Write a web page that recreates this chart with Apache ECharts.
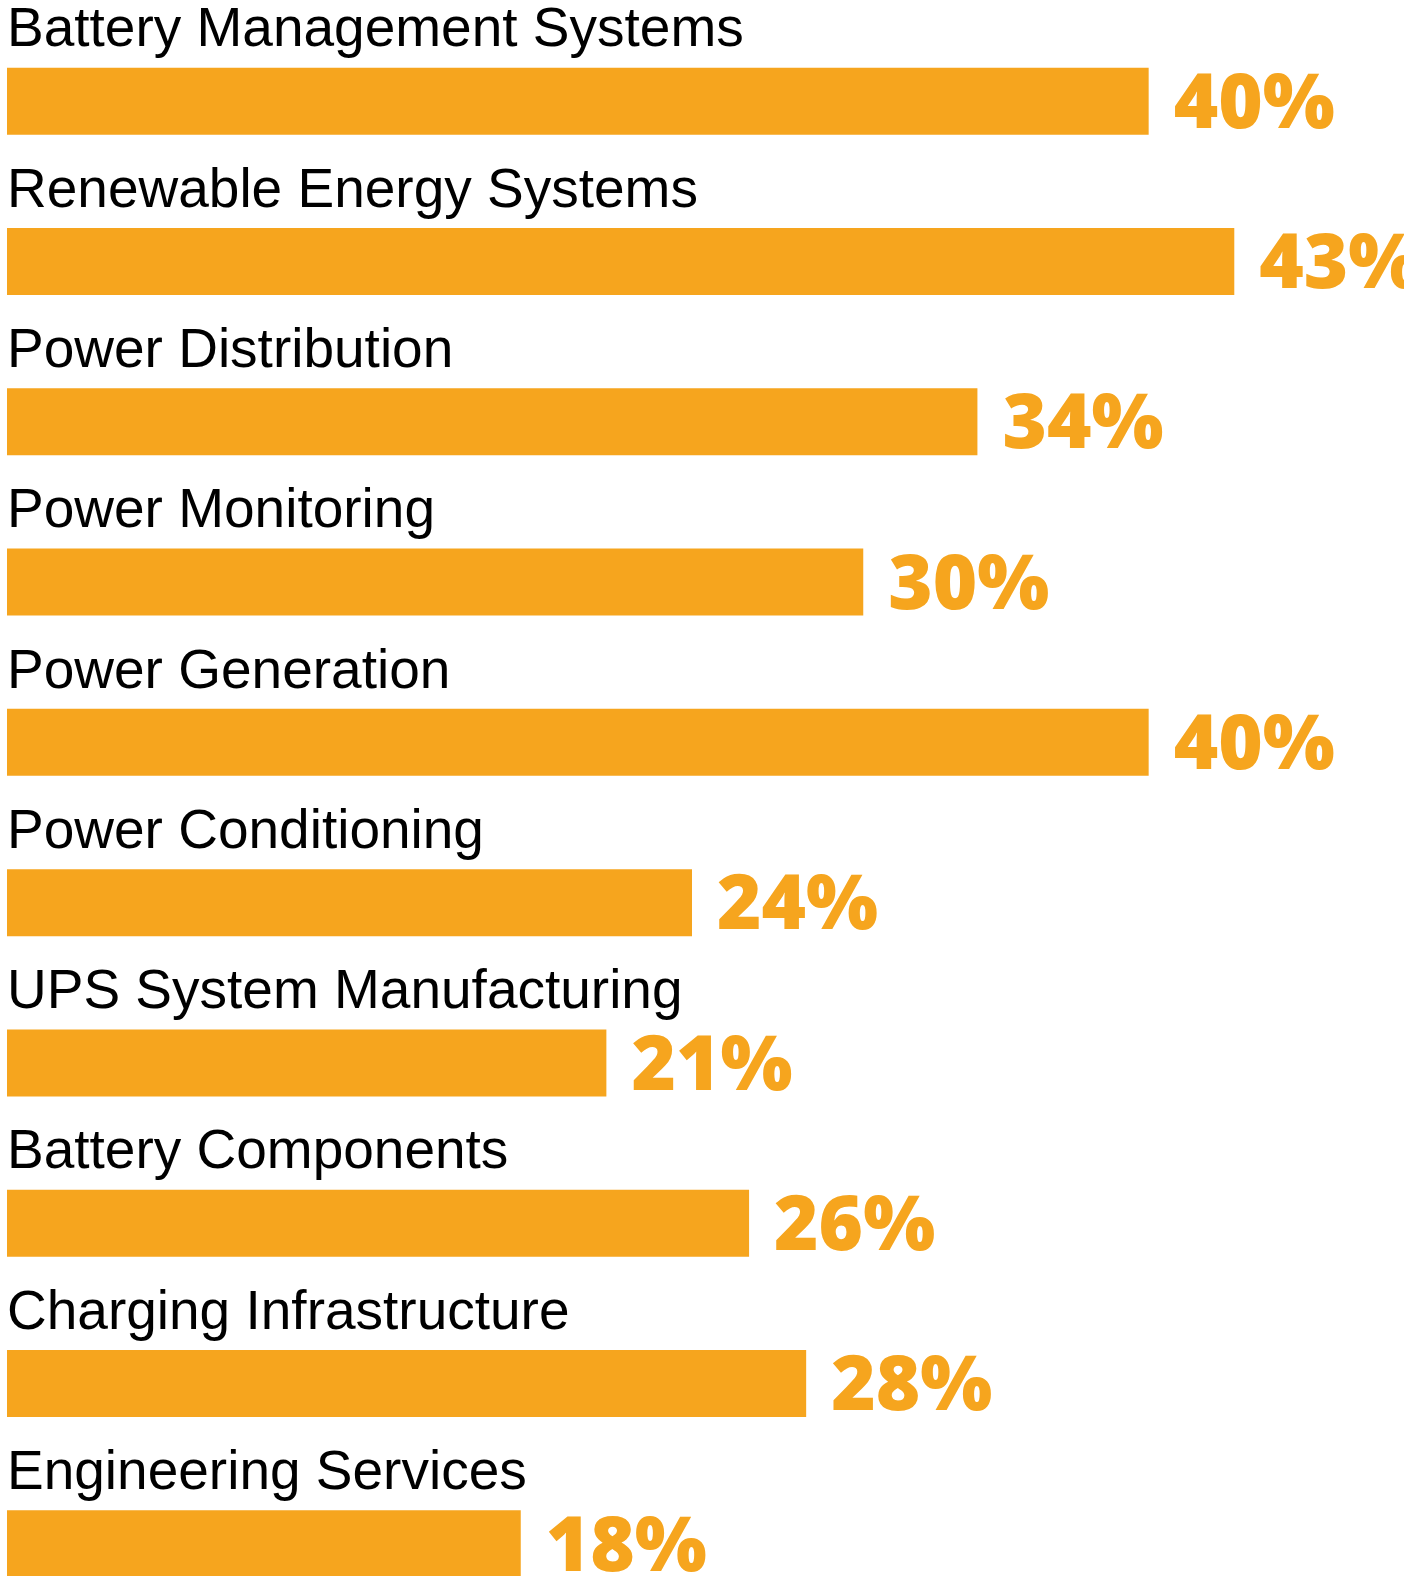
<!DOCTYPE html>
<html>
<head>
<meta charset="utf-8">
<script src="https://cdn.jsdelivr.net/npm/echarts@6/dist/echarts.min.js"></script>
<style>
  html, body { margin: 0; padding: 0; background: #fff; }
  #chart { width: 1404px; height: 1576px; }
</style>
</head>
<body>
<div id="chart"></div>
<script>
// 行业分类与占比
const categories = [
  'Battery Management Systems',
  'Renewable Energy Systems',
  'Power Distribution',
  'Power Monitoring',
  'Power Generation',
  'Power Conditioning',
  'UPS System Manufacturing',
  'Battery Components',
  'Charging Infrastructure',
  'Engineering Services'
]
const shares = [40, 43, 34, 30, 40, 24, 21, 26, 28, 18]

const orange = '#F6A51E'
const chart = echarts.init(document.getElementById('chart'))

const option = {
  animation: false,
  grid: {
    left: 7,
    top: 21,
    width: 1370,
    height: 1603,
    outerBoundsMode: 'none'
  },
  xAxis: {
    type: 'value',
    min: 0,
    max: 48,
    show: false
  },
  yAxis: {
    type: 'category',
    data: categories,
    inverse: true,
    show: false
  },
  series: [
    {
      // 柱子 + 百分比
      name: 'share',
      type: 'bar',
      data: shares,
      barWidth: 67,
      itemStyle: { color: orange },
      label: {
        show: true,
        position: 'right',
        distance: 25,
        offset: [0, 5],
        formatter: '{c}%',
        color: orange,
        fontFamily: 'Open Sans',
        fontWeight: 800,
        fontSize: 76
      }
    },
    {
      // 类别名称（透明柱，仅用于放标签）
      name: 'name',
      type: 'bar',
      data: shares,
      barWidth: 67,
      barGap: '-100%',
      itemStyle: { color: 'rgba(0,0,0,0)' },
      silent: true,
      label: {
        show: true,
        position: [0, -9],
        verticalAlign: 'bottom',
        align: 'left',
        formatter: '{b}',
        color: '#000',
        fontFamily: 'Liberation Sans',
        fontSize: 55
      }
    }
  ]
}

chart.setOption(option)
</script>
</body>
</html>
